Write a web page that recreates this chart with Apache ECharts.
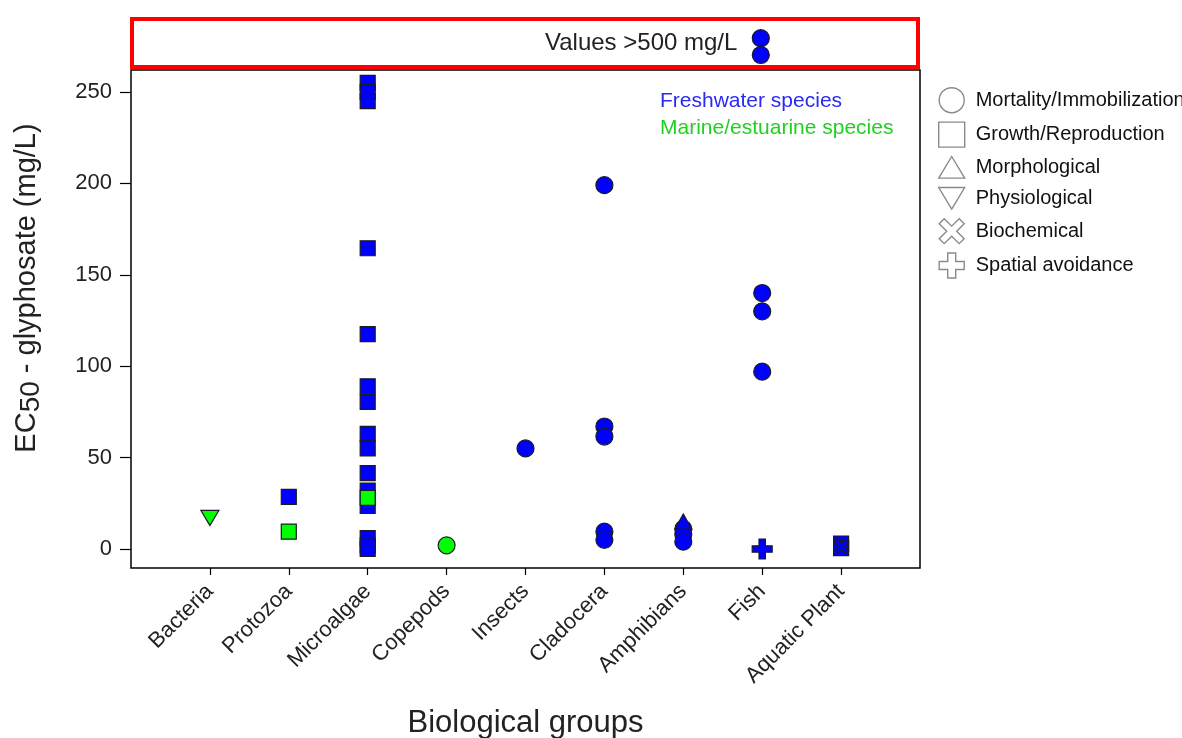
<!DOCTYPE html>
<html>
<head>
<meta charset="utf-8">
<script src="https://cdn.jsdelivr.net/npm/echarts@6/dist/echarts.min.js"></script>
<style>
html,body{margin:0;padding:0;background:#fff;}
#c{width:1182px;height:738px;}
</style>
</head>
<body>
<div id="c"></div>
<script>
// ---- data ----
const categories = ['', 'Bacteria', 'Protozoa', 'Microalgae', 'Copepods', 'Insects', 'Cladocera', 'Amphibians', 'Fish', 'Aquatic Plant', ''];
const yTicks = [0, 50, 100, 150, 200, 250];

const mortalityFresh = [['Insects', 55], ['Cladocera', 199], ['Cladocera', 67], ['Cladocera', 61.5], ['Cladocera', 9.5], ['Cladocera', 5],
  ['Amphibians', 11], ['Amphibians', 8], ['Amphibians', 4], ['Fish', 140], ['Fish', 130], ['Fish', 97]];
const mortalityMarine = [['Copepods', 2]];
const growthFresh = [['Protozoa', 28.5], ['Microalgae', 255], ['Microalgae', 250], ['Microalgae', 245], ['Microalgae', 164.5],
  ['Microalgae', 117.5], ['Microalgae', 89], ['Microalgae', 80.5], ['Microalgae', 63], ['Microalgae', 55], ['Microalgae', 41.5],
  ['Microalgae', 32], ['Microalgae', 23.5], ['Microalgae', 6], ['Microalgae', 2], ['Microalgae', 0],
  ['Aquatic Plant', 3], ['Aquatic Plant', 0.5]];
const growthMarine = [['Protozoa', 9.5], ['Microalgae', 28]];
const morphFresh = [['Amphibians', 15]];
const physMarine = [['Bacteria', 17]];
const biochemFresh = [['Aquatic Plant', 1.5]];
const avoidFresh = [['Fish', 0]];
// fish values above 500 mg/L (shown in the separate top band)
const fishOver500 = [['Fish', 620], ['Fish', 550]];

const effectNames = ['Mortality/Immobilization', 'Growth/Reproduction', 'Morphological', 'Physiological', 'Biochemical', 'Spatial avoidance'];

// ---- styling ----
const BLUE = '#0000ff', GREEN = '#00ff00';
const FONT = '"Liberation Sans", Arial, sans-serif';
const SYM_X = 'path://M2,0 L5,3 L8,0 L10,2 L7,5 L10,8 L8,10 L5,7 L2,10 L0,8 L3,5 L0,2 Z';
const SYM_PLUS = 'path://M3.4,0 H6.6 V3.4 H10 V6.6 H6.6 V10 H3.4 V6.6 H0 V3.4 H3.4 Z';
const SYM_DOWN = 'path://M0,0 L12,0 L6,10 Z';
const SYM_UP = 'path://M6,0 L12,10 L0,10 Z';

function items(list, color) {
  return list.map(d => ({ value: d, itemStyle: { color: color } }));
}
const border = { borderColor: '#1a1a2a', borderWidth: 1.2 };

function sc(name, symbol, size, data, gi) {
  return {
    name: name, type: 'scatter', symbol: symbol, symbolSize: size,
    xAxisIndex: gi || 0, yAxisIndex: gi || 0,
    itemStyle: Object.assign({ opacity: 1 }, border),
    emphasis: { disabled: true },
    data: data
  };
}

const legendIcons = ['circle', 'rect', SYM_UP, SYM_DOWN, SYM_X, SYM_PLUS];

const chart = echarts.init(document.getElementById('c'));
chart.setOption({
  animation: false,
  textStyle: { fontFamily: FONT },
  grid: [
    { left: 131, right: 262, top: 70, bottom: 170, outerBoundsMode: 'none', containLabel: false,
      show: true, borderColor: '#000', borderWidth: 1.5, backgroundColor: 'transparent' },
    { left: 132, right: 264, top: 19, height: 48, outerBoundsMode: 'none', containLabel: false,
      show: true, borderColor: '#ff0000', borderWidth: 4, backgroundColor: 'transparent' }
  ],
  xAxis: [
    {
      type: 'category', gridIndex: 0, data: categories, boundaryGap: false,
      axisLine: { show: false, onZero: false },
      axisTick: { show: true, length: 7, lineStyle: { color: '#000', width: 1.2 }, interval: (i, v) => v !== '' },
      axisLabel: { rotate: 45, fontSize: 22, color: '#222', margin: 20, fontFamily: FONT, interval: 0 },
      name: 'Biological groups', nameLocation: 'middle', nameGap: 140,
      nameTextStyle: { fontSize: 31, color: '#222', fontFamily: FONT }
    },
    {
      type: 'category', gridIndex: 1, data: categories, boundaryGap: false, show: false
    }
  ],
  yAxis: [
    {
      type: 'value', gridIndex: 0, min: -10.4, max: 262,
      splitLine: { show: false },
      axisLine: { show: false },
      axisTick: { show: true, length: 11, lineStyle: { color: '#000', width: 1.2 }, customValues: yTicks },
      axisLabel: { fontSize: 22, color: '#222', margin: 19, fontFamily: FONT, customValues: yTicks },
      name: 'EC{sub|50} - glyphosate (mg/L)', nameLocation: 'middle', nameGap: 86,
      nameTextStyle: {
        fontSize: 29, color: '#222', fontFamily: FONT, padding: [0, 0, 0, 62],
        rich: { sub: { fontSize: 28, color: '#222', fontFamily: FONT, padding: [9, 0, 0, 0], verticalAlign: 'bottom' } }
      }
    },
    {
      type: 'value', gridIndex: 1, min: 500, max: 700, show: false, splitLine: { show: false }
    }
  ],
  legend: {
    orient: 'vertical', left: 933, top: 82, itemWidth: 26, itemHeight: 25, itemGap: 8,
    textStyle: { fontSize: 20, color: '#111', fontFamily: FONT, padding: [0, 0, 0, 6] },
    selectedMode: false,
    data: effectNames.map((n, i) => ({
      name: n, icon: legendIcons[i],
      itemStyle: { color: 'rgba(0,0,0,0)', borderColor: '#8a8a8a', borderWidth: 1.4 }
    }))
  },
  graphic: [
    { type: 'text', left: 545, top: 31, style: { text: 'Values >500 mg/L', fontSize: 24, fill: '#222', fontFamily: FONT } },
    { type: 'text', left: 660, top: 91, style: { text: 'Freshwater species', fontSize: 21, fill: '#2a2af0', fontFamily: FONT } },
    { type: 'text', left: 660, top: 118, style: { text: 'Marine/estuarine species', fontSize: 21, fill: '#1fd01f', fontFamily: FONT } }
  ],
  series: [
    sc(effectNames[1], 'rect', 15, items(growthFresh, BLUE).concat(items(growthMarine, GREEN))),
    sc(effectNames[0], 'circle', 17, items(mortalityFresh, BLUE).concat(items(mortalityMarine, GREEN))),
    sc(effectNames[0], 'circle', 17, items(fishOver500, BLUE), 1),
    sc(effectNames[2], SYM_UP, [17, 15], items(morphFresh, BLUE)),
    sc(effectNames[3], SYM_DOWN, [18, 15], items(physMarine, GREEN)),
    sc(effectNames[4], SYM_X, 15, items(biochemFresh, BLUE)),
    sc(effectNames[5], SYM_PLUS, 20, items(avoidFresh, BLUE))
  ]
});
</script>
</body>
</html>
